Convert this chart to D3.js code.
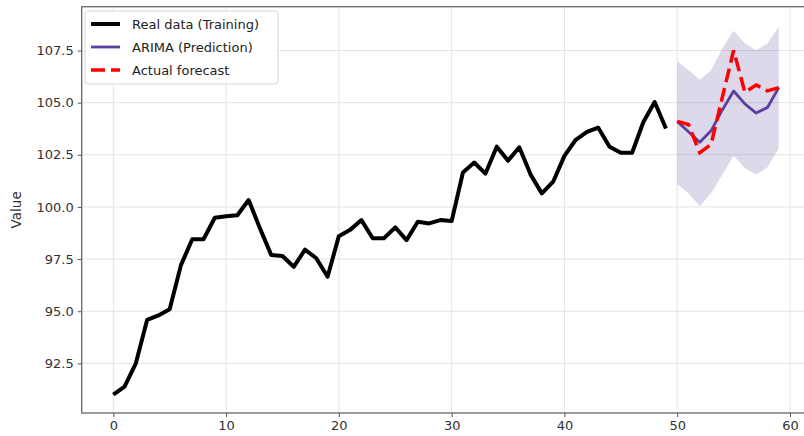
<!DOCTYPE html>
<html>
<head>
<meta charset="utf-8">
<script src="https://cdn.jsdelivr.net/npm/d3@7"></script>
<style>
  html, body { margin: 0; padding: 0; background: #fff; }
  svg { display: block; font-family: "DejaVu Sans", sans-serif; }
</style>
</head>
<body>
<svg id="chart" width="804" height="436"></svg>
<script>
// Training series (t = 0..49)
const trainValues = [
  91.0, 91.38, 92.5, 94.58, 94.8, 95.09, 97.21, 98.45, 98.45, 99.48,
  99.55, 99.6, 100.33, 98.98, 97.7, 97.65, 97.13, 97.95, 97.54, 96.65,
  98.6, 98.9, 99.37, 98.5, 98.5, 99.02, 98.41, 99.29, 99.21, 99.37,
  99.32, 101.65, 102.13, 101.6, 102.89, 102.22, 102.86, 101.55, 100.65, 101.21,
  102.45, 103.22, 103.6, 103.8, 102.89, 102.6, 102.6, 104.07, 105.03, 103.76
];
// Forecast horizon (t = 50..59)
const forecastStart = 50;
const arimaValues  = [104.1, 103.6, 103.1, 103.65, 104.65, 105.56, 104.94, 104.5, 104.77, 105.72];
const actualValues = [104.1, 103.95, 102.6, 103.0, 105.25, 107.5, 105.5, 105.85, 105.56, 105.72];
const upperValues  = [107.0, 106.55, 106.1, 106.55, 107.6, 108.45, 107.85, 107.5, 107.85, 108.64];
const lowerValues  = [101.1, 100.65, 100.05, 100.65, 101.55, 102.45, 101.85, 101.55, 101.9, 102.8];

const xTicks = [0, 10, 20, 30, 40, 50, 60];
const yTicks = [92.5, 95.0, 97.5, 100.0, 102.5, 105.0, 107.5];
const legendLabels = ["Real data (Training)", "ARIMA (Prediction)", "Actual forecast"];

const svg = d3.select("#chart");
const plot = { left: 81.7, right: 812, top: 6.7, bottom: 413 };

const x = d3.scaleLinear().domain([-2.8, 61.95]).range([plot.left, plot.right]);
const y = d3.scaleLinear().domain([90.12, 109.6]).range([plot.bottom, plot.top]);

const train = trainValues.map((v, i) => ({ t: i, v }));
const fc = arimaValues.map((v, i) => ({
  t: forecastStart + i, arima: v, actual: actualValues[i],
  lo: lowerValues[i], hi: upperValues[i]
}));

// grid
const grid = svg.append("g").attr("stroke", "#e3e3e3").attr("stroke-width", 1);
xTicks.forEach(t => grid.append("line")
  .attr("x1", x(t)).attr("x2", x(t)).attr("y1", plot.top).attr("y2", plot.bottom));
yTicks.forEach(t => grid.append("line")
  .attr("x1", plot.left).attr("x2", plot.right).attr("y1", y(t)).attr("y2", y(t)));

// confidence band
svg.append("path").datum(fc)
  .attr("fill", "#6b55a3").attr("fill-opacity", 0.23)
  .attr("d", d3.area().x(d => x(d.t)).y0(d => y(d.lo)).y1(d => y(d.hi)));

// training line
svg.append("path").datum(train)
  .attr("fill", "none").attr("stroke", "#000").attr("stroke-width", 4)
  .attr("stroke-linejoin", "round")
  .attr("d", d3.line().x(d => x(d.t)).y(d => y(d.v)));

// ARIMA prediction
svg.append("path").datum(fc)
  .attr("fill", "none").attr("stroke", "#5b3f9e").attr("stroke-width", 2.8)
  .attr("stroke-linejoin", "round")
  .attr("d", d3.line().x(d => x(d.t)).y(d => y(d.arima)));

// actual values over the horizon
svg.append("path").datum(fc)
  .attr("fill", "none").attr("stroke", "#ff0000").attr("stroke-width", 3.5)
  .attr("stroke-dasharray", "14,6")
  .attr("d", d3.line().x(d => x(d.t)).y(d => y(d.actual)));

// axes
const xAxis = d3.axisBottom(x).tickValues(xTicks).tickFormat(d3.format("d"))
  .tickSize(4).tickPadding(4);
const yAxis = d3.axisLeft(y).tickValues(yTicks).tickFormat(d3.format(".1f"))
  .tickSize(4).tickPadding(4);

const gx = svg.append("g").attr("transform", `translate(0,${plot.bottom})`).call(xAxis);
const gy = svg.append("g").attr("transform", `translate(${plot.left},0)`).call(yAxis);
[gx, gy].forEach(g => {
  g.select(".domain").remove();
  g.selectAll(".tick line").attr("stroke", "#555").attr("stroke-width", 1);
  g.selectAll(".tick text").attr("fill", "#333").style("font-size", "13px")
    .style("font-family", "DejaVu Sans, sans-serif");
});

// spines
const spines = svg.append("g").attr("stroke", "#666").attr("stroke-width", 1.3).attr("fill", "none");
spines.append("rect")
  .attr("x", plot.left).attr("y", plot.top)
  .attr("width", plot.right - plot.left).attr("height", plot.bottom - plot.top);

// y label
svg.append("text")
  .attr("transform", `translate(21,${(plot.top + plot.bottom) / 2}) rotate(-90)`)
  .attr("text-anchor", "middle").attr("fill", "#333")
  .style("font-size", "13.5px").text("Value");

// legend
const lg = svg.append("g");
lg.append("rect").attr("x", 85).attr("y", 11).attr("width", 193).attr("height", 73)
  .attr("rx", 3).attr("fill", "#fff").attr("fill-opacity", 0.85)
  .attr("stroke", "#d6d6d6").attr("stroke-width", 1);
const styles = [
  { stroke: "#000", w: 4, dash: null },
  { stroke: "#5b3f9e", w: 2.8, dash: null },
  { stroke: "#ff0000", w: 3.5, dash: "14,6" }
];
legendLabels.forEach((label, i) => {
  const cy = 24 + i * 23;
  lg.append("line").attr("x1", 91).attr("x2", 120).attr("y1", cy).attr("y2", cy)
    .attr("stroke", styles[i].stroke).attr("stroke-width", styles[i].w)
    .attr("stroke-dasharray", styles[i].dash);
  lg.append("text").attr("x", 132).attr("y", cy).attr("dy", "0.35em")
    .attr("fill", "#222").style("font-size", "13px").text(label);
});
</script>
</body>
</html>
